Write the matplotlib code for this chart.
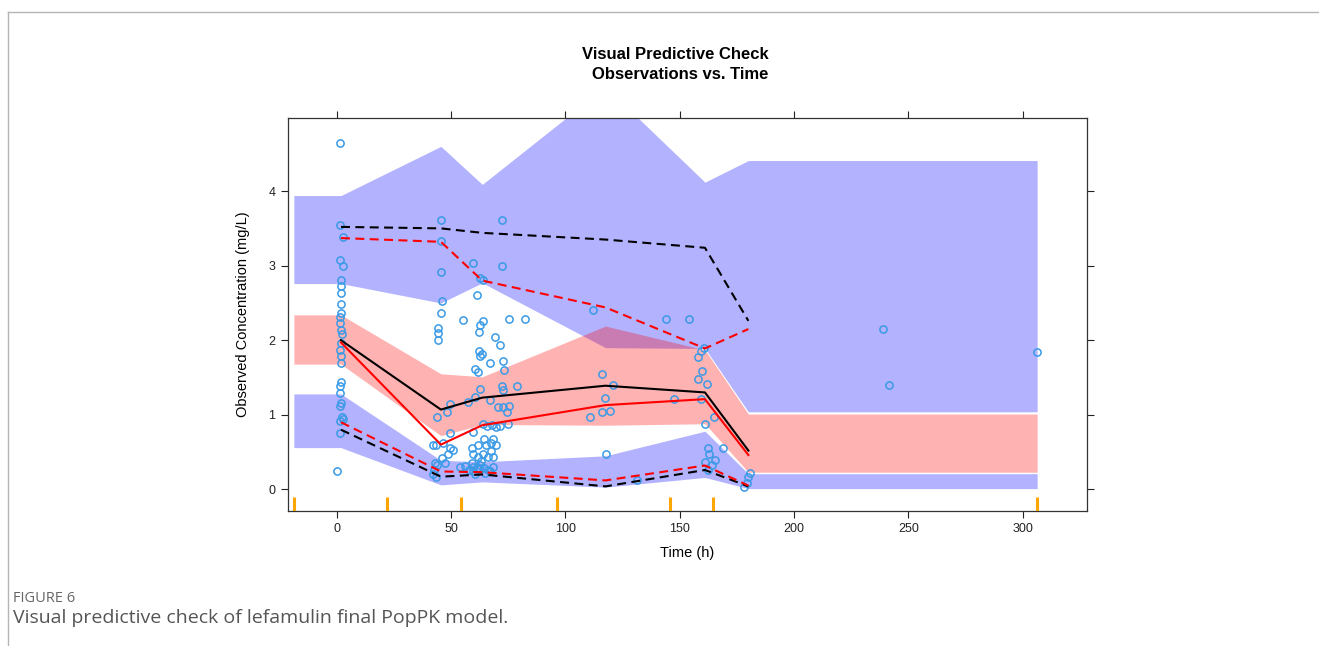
import numpy as np
import matplotlib
matplotlib.use("Agg")
import matplotlib.pyplot as plt
from matplotlib.lines import Line2D

plt.rcParams['font.family'] = ['Liberation Sans', 'DejaVu Sans']

# bin boundaries (orange rug) and band vertices
bin_edges = [-18.8, 22.0, 54.5, 96.4, 145.8, 164.7, 306.3]
band_t = [-18.8, 1.8, 45.5, 63.6, 117.5, 161.0, 180.0, 306.3]

# CI of 95th percentile (blue, upper)
p95_hi = [3.94, 3.94, 4.60, 4.09, 5.40, 4.12, 4.41, 4.41]
p95_lo = [2.76, 2.76, 2.50, 2.77, 1.90, 1.89, 1.04, 1.04]
# CI of median (red)
p50_hi = [2.34, 2.34, 1.55, 1.51, 2.19, 1.87, 1.01, 1.01]
p50_lo = [1.68, 1.68, 0.72, 0.87, 0.86, 0.88, 0.23, 0.23]
# CI of 5th percentile (blue, lower)
p05_hi = [1.28, 1.28, 0.39, 0.37, 0.45, 0.78, 0.21, 0.21]
p05_lo = [0.56, 0.56, 0.06, 0.10, 0.03, 0.16, 0.01, 0.01]

# percentile lines at bin centres
line_t = [1.8, 45.5, 63.6, 117.5, 161.0, 180.0]
obs_med = [2.00, 1.07, 1.23, 1.39, 1.30, 0.52]
sim_med = [1.97, 0.60, 0.86, 1.13, 1.21, 0.46]
obs_p95 = [3.52, 3.50, 3.44, 3.35, 3.24, 2.26]
sim_p95 = [3.37, 3.32, 2.80, 2.44, 1.89, 2.15]
obs_p05 = [0.80, 0.17, 0.20, 0.04, 0.26, 0.04]
sim_p05 = [0.90, 0.24, 0.23, 0.12, 0.32, 0.05]

# observations
obs_t = [1.3, 1.5, 2.5, 1.3, 2.6, 1.8, 2.0, 1.6, 1.7, 1.9, 1.5, 1.2, 1.7, 2.1,
         1.6, 1.5, 1.7, 2.0, 1.9, 1.4, 1.5, 1.8, 1.5, 2.3, 2.8, 1.4, 1.5, 0.0,
         45.4, 45.4, 72.1, 59.4, 72.1, 45.4, 62.6, 63.9, 45.8, 61.1, 45.5, 55.3,
         75.3, 82.3, 62.6, 64.0, 62.3, 44.3, 44.3, 44.1, 69.1, 71.3, 62.1, 63.3,
         62.6, 66.9, 72.7, 60.4, 61.8, 72.9, 78.8, 72.1, 72.5, 62.6, 60.4, 66.9,
         57.4, 49.7, 48.0, 43.9, 70.6, 72.7, 75.4, 74.2, 64.0, 65.8, 67.7, 69.6,
         71.3, 74.7, 59.4, 49.7, 64.4, 68.4, 61.8, 65.1, 67.2, 69.6, 41.9, 43.3,
         46.5, 49.4, 51.0, 48.6, 58.9, 59.6, 61.8, 64.0, 66.2, 68.4, 42.9, 43.6,
         56.0, 58.9, 59.6, 61.1, 62.6, 64.4, 66.2, 68.4, 42.6, 41.9, 43.3, 53.8,
         57.9, 59.6, 62.3, 66.9, 46.0, 47.5, 60.5, 63.2, 65.0, 67.5,
         112.1, 143.8, 154.1, 160.7, 159.3, 158.1, 159.8, 157.8, 161.7, 115.8,
         120.9, 117.3, 115.8, 119.4, 110.7, 147.4, 159.1, 165.1, 161.0, 117.7,
         131.1, 162.4, 168.7, 162.7, 165.4, 161.0, 164.2, 162.4, 180.7, 179.8,
         179.2, 178.2,
         238.7, 241.5, 306.1]
obs_c = [4.65, 3.54, 3.38, 3.07, 2.99, 2.81, 2.73, 2.64, 2.49, 2.37, 2.31, 2.23, 2.14, 2.09,
         1.96, 1.87, 1.79, 1.70, 1.44, 1.38, 1.29, 1.16, 1.12, 0.97, 0.94, 0.75, 0.92, 0.24,
         3.61, 3.33, 3.61, 3.03, 3.00, 2.92, 2.83, 2.81, 2.53, 2.61, 2.36, 2.27,
         2.28, 2.28, 2.20, 2.26, 2.11, 2.17, 2.10, 2.00, 2.05, 1.93, 1.86, 1.82,
         1.79, 1.70, 1.72, 1.61, 1.58, 1.60, 1.38, 1.38, 1.33, 1.34, 1.24, 1.20,
         1.17, 1.15, 1.04, 0.97, 1.10, 1.11, 1.12, 1.04, 0.88, 0.85, 0.86, 0.84,
         0.85, 0.88, 0.77, 0.76, 0.68, 0.68, 0.60, 0.60, 0.62, 0.60, 0.60, 0.60,
         0.62, 0.55, 0.53, 0.48, 0.55, 0.48, 0.44, 0.48, 0.44, 0.44, 0.35, 0.33,
         0.31, 0.35, 0.30, 0.28, 0.33, 0.28, 0.26, 0.30, 0.26, 0.21, 0.17, 0.30,
         0.26, 0.24, 0.27, 0.24, 0.42, 0.36, 0.20, 0.38, 0.22, 0.52,
         2.41, 2.29, 2.29, 1.89, 1.85, 1.78, 1.59, 1.48, 1.41, 1.55,
         1.40, 1.23, 1.04, 1.05, 0.97, 1.21, 1.21, 0.97, 0.88, 0.47,
         0.12, 0.55, 0.55, 0.47, 0.39, 0.37, 0.33, 0.26, 0.22, 0.16,
         0.09, 0.03,
         2.15, 1.40, 1.84]

fig = plt.figure(figsize=(13.19, 6.46), dpi=100)
ax = fig.add_axes([0.2183, 0.2090, 0.6058, 0.6083])

ax.fill_between(band_t, p95_lo, p95_hi, color='blue', alpha=0.3, lw=0)
ax.fill_between(band_t, p05_lo, p05_hi, color='blue', alpha=0.3, lw=0)
ax.fill_between(band_t, p50_lo, p50_hi, color='red', alpha=0.3, lw=0)

ax.plot(obs_t, obs_c, 'o', mfc='none', mec='#3a9ae6', ms=5.2, mew=1.1, zorder=3)

dash = (0, (4.3, 2.6))
ax.plot(line_t, obs_med, color='black', lw=1.5, zorder=4)
ax.plot(line_t, sim_med, color='red', lw=1.5, zorder=4)
ax.plot(line_t, obs_p95, color='black', lw=1.5, ls=dash, zorder=4)
ax.plot(line_t, sim_p95, color='red', lw=1.5, ls=dash, zorder=4)
ax.plot(line_t, obs_p05, color='black', lw=1.5, ls=dash, zorder=4)
ax.plot(line_t, sim_p05, color='red', lw=1.5, ls=dash, zorder=4)

# bin boundary rug
ax.vlines(bin_edges, 0, 0.035, transform=ax.get_xaxis_transform(),
          color='#ffa500', lw=2.2, zorder=5)

ax.set_xlim(-21.4, 328.1)
ax.set_ylim(-0.29, 4.98)
ax.set_xticks([0, 50, 100, 150, 200, 250, 300])
ax.set_yticks([0, 1, 2, 3, 4])
ax.tick_params(direction='out', length=5, width=0.8, labelsize=9, colors='#222222',
               top=True, right=True, labeltop=False, labelright=False, pad=4)
for s in ax.spines.values():
    s.set_color('#333333')
    s.set_linewidth(0.9)

ax.set_xlabel('Time (h)', fontsize=10.5)
ax.set_ylabel('Observed Concentration (mg/L)', fontsize=10.5)
ax.xaxis.set_label_coords(0.5, -0.089)
ax.yaxis.set_label_coords(-0.048, 0.5)

fig.text(0.512, 0.915, 'Visual Predictive Check', ha='center', va='center',
         fontsize=12, fontweight='bold')
fig.text(0.5155, 0.884, 'Observations vs. Time', ha='center', va='center',
         fontsize=12, fontweight='bold')

# panel frame lines and caption
fig.add_artist(Line2D([8 / 1319, 1], [1 - 12 / 646, 1 - 12 / 646],
                      transform=fig.transFigure, color='#b5b5b5', lw=1))
fig.add_artist(Line2D([8 / 1319, 8 / 1319], [0, 1 - 12 / 646],
                      transform=fig.transFigure, color='#b5b5b5', lw=1))
fig.text(0.0095, 0.068, 'FIGURE 6', ha='left', va='baseline', fontsize=10.5,
         color='#666666', family=['Open Sans', 'DejaVu Sans'])
fig.text(0.0095, 0.035, 'Visual predictive check of lefamulin final PopPK model.',
         ha='left', va='baseline', fontsize=14, color='#555555',
         family=['Open Sans', 'DejaVu Sans'])

fig.savefig('out.png', dpi=100)
